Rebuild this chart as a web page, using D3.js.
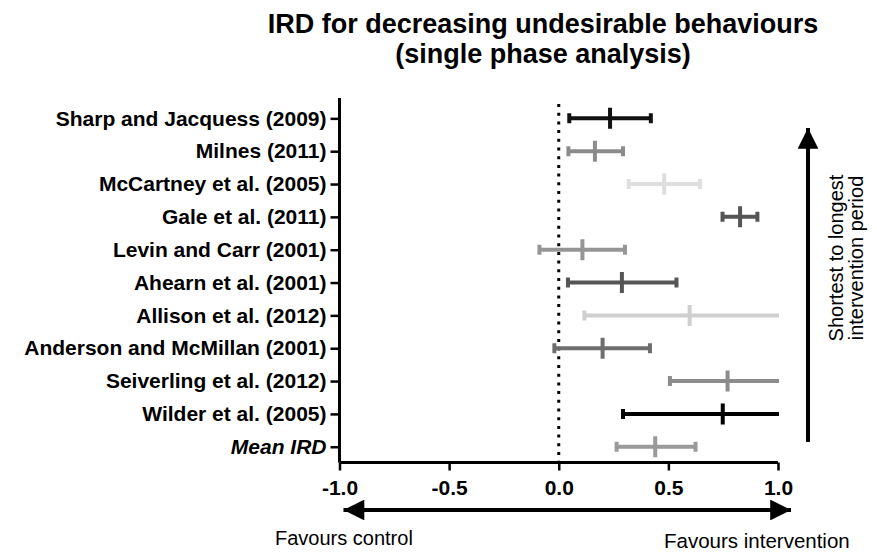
<!DOCTYPE html>
<html>
<head>
<meta charset="utf-8">
<script src="https://cdn.jsdelivr.net/npm/d3@7"></script>
<style>
  body { margin: 0; background: #fff; }
  svg { font-family: "Liberation Sans", Arial, sans-serif; }
</style>
</head>
<body>
<div id="chart"></div>
<script>
// studies, top to bottom
const studies = [
  "Sharp and Jacquess (2009)", "Milnes (2011)", "McCartney et al. (2005)",
  "Gale et al. (2011)", "Levin and Carr (2001)", "Ahearn et al. (2001)",
  "Allison et al. (2012)", "Anderson and McMillan (2001)", "Seiverling et al. (2012)",
  "Wilder et al. (2005)", "Mean IRD"
];
const ird   = [0.234, 0.165, 0.481, 0.827, 0.108, 0.288, 0.597, 0.200, 0.770, 0.748, 0.440];
const lower = [0.048, 0.044, 0.319, 0.747, -0.088, 0.042, 0.117, -0.020, 0.507, 0.293, 0.264];
const upper = [0.420, 0.293, 0.644, 0.906, 0.302, 0.537, 1.080, 0.416, 1.030, 1.200, 0.624];
const shades = ["#111", "#8c8c8c", "#dedede", "#555", "#959595", "#555",
                "#cfcfcf", "#6e6e6e", "#8c8c8c", "#000", "#9a9a9a"];
const xTicks = [-1.0, -0.5, 0.0, 0.5, 1.0];

const width = 877, height = 553;
const svg = d3.select("#chart").append("svg")
  .attr("width", width).attr("height", height);

const x = d3.scaleLinear().domain([-1, 1]).range([339.5, 778]);
const y = d3.scaleLinear().domain([-0.62, 10.48]).range([98, 462.5]);

// title
svg.append("text").attr("x", 543).attr("y", 33).attr("text-anchor", "middle")
  .attr("font-size", "27px").attr("font-weight", "bold")
  .text("IRD for decreasing undesirable behaviours");
svg.append("text").attr("x", 543).attr("y", 63).attr("text-anchor", "middle")
  .attr("font-size", "27px").attr("font-weight", "bold")
  .text("(single phase analysis)");

// zero line
svg.append("line")
  .attr("x1", x(0)).attr("x2", x(0))
  .attr("y1", y.range()[0] + 6).attr("y2", y.range()[1])
  .attr("stroke", "#000").attr("stroke-width", 3)
  .attr("stroke-dasharray", "3,5.7");

// clip for bars running off the right edge
svg.append("clipPath").attr("id", "plotclip")
  .append("rect").attr("x", x(-1)).attr("y", y.range()[0])
  .attr("width", x(1) - x(-1) + 1).attr("height", y.range()[1] - y.range()[0]);

const rows = studies.map((s, i) => ({ s, i, m: ird[i], lo: lower[i], hi: upper[i], c: shades[i] }));
const bars = svg.append("g").attr("clip-path", "url(#plotclip)")
  .selectAll("g.bar").data(rows).enter().append("g").attr("class", "bar");

bars.append("line")
  .attr("x1", d => x(d.lo)).attr("x2", d => x(d.hi))
  .attr("y1", d => y(d.i)).attr("y2", d => y(d.i))
  .attr("stroke", d => d.c).attr("stroke-width", 4);
// caps
bars.each(function (d) {
  const g = d3.select(this);
  [d.lo, d.hi].forEach(v => {
    if (v > 1 || v < -1) return;
    g.append("line")
      .attr("x1", x(v)).attr("x2", x(v))
      .attr("y1", y(d.i) - 5).attr("y2", y(d.i) + 5)
      .attr("stroke", d.c).attr("stroke-width", 4);
  });
});
// mean tick
bars.append("line")
  .attr("x1", d => x(d.m)).attr("x2", d => x(d.m))
  .attr("y1", d => y(d.i) - 10.5).attr("y2", d => y(d.i) + 10.5)
  .attr("stroke", d => d.c).attr("stroke-width", 4);

// y axis
const yAxis = svg.append("g").attr("transform", `translate(${x(-1)},0)`)
  .call(d3.axisLeft(y).tickValues(d3.range(studies.length))
    .tickSize(9).tickPadding(4).tickFormat(i => studies[i]));
yAxis.select(".domain").attr("stroke-width", 3).attr("d", `M0,${y.range()[0]}V${y.range()[1]}`);
yAxis.selectAll(".tick line").attr("stroke-width", 2.5);
yAxis.selectAll(".tick text")
  .attr("font-size", "21px").attr("font-weight", "bold").attr("fill", "#000")
  .attr("font-family", "'Liberation Sans', Arial, sans-serif")
  .attr("font-style", i => i === studies.length - 1 ? "italic" : "normal");

// x axis
const xAxis = svg.append("g").attr("transform", `translate(0,${y.range()[1]})`)
  .call(d3.axisBottom(x).tickValues(xTicks).tickSize(8).tickPadding(9.5)
    .tickFormat(d => d.toFixed(1)));
xAxis.select(".domain").attr("stroke-width", 3).attr("d", `M${x(-1)},0H${x(1)}`);
xAxis.selectAll(".tick line").attr("stroke-width", 2.5);
xAxis.selectAll(".tick text")
  .attr("font-size", "21px").attr("font-weight", "bold").attr("fill", "#000")
  .attr("font-family", "'Liberation Sans', Arial, sans-serif");

// arrow heads
const defs = svg.append("defs");
defs.append("marker").attr("id", "head")
  .attr("viewBox", "0 0 10 10").attr("refX", 10).attr("refY", 5)
  .attr("markerWidth", 5.5).attr("markerHeight", 5.2)
  .attr("markerUnits", "strokeWidth").attr("orient", "auto-start-reverse")
  .append("path").attr("d", "M0,0L10,5L0,10Z").attr("fill", "#000");

// horizontal double arrow
svg.append("line")
  .attr("x1", x(-1) + 4).attr("x2", x(1) + 13)
  .attr("y1", 510).attr("y2", 510)
  .attr("stroke", "#000").attr("stroke-width", 4)
  .attr("marker-start", "url(#head)").attr("marker-end", "url(#head)");

svg.append("text").attr("x", 275).attr("y", 545)
  .attr("font-size", "20px").text("Favours control");
svg.append("text").attr("x", 664).attr("y", 548)
  .attr("font-size", "20.5px").text("Favours intervention");

// vertical arrow
svg.append("line")
  .attr("x1", 808).attr("x2", 808)
  .attr("y1", 442).attr("y2", 128)
  .attr("stroke", "#000").attr("stroke-width", 4)
  .attr("marker-end", "url(#head)");

const side = svg.append("text")
  .attr("transform", "translate(843,258) rotate(-90)")
  .attr("text-anchor", "middle").attr("font-size", "20px");
side.append("tspan").attr("x", 0).attr("dy", 0).text("Shortest to longest");
side.append("tspan").attr("x", 0).attr("dy", 20).text("intervention period");
</script>
</body>
</html>
